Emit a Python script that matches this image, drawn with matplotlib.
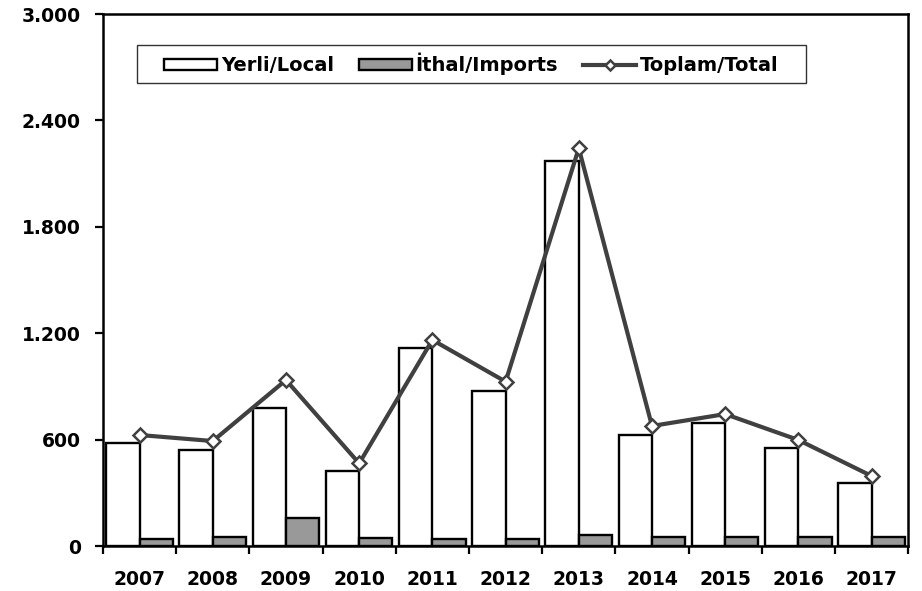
import matplotlib.pyplot as plt
import numpy as np
from matplotlib.ticker import FuncFormatter
from matplotlib.patches import Rectangle

years = ["2007", "2008", "2009", "2010", "2011", "2012", "2013", "2014", "2015", "2016", "2017"]
local = [582, 541, 776, 423, 1118, 874, 2171, 628, 695, 551, 354]
imports = [42, 49, 158, 45, 38, 42, 63, 53, 53, 53, 53]
total = [626, 592, 936, 466, 1162, 927, 2243, 677, 744, 598, 395]

plt.rcParams['font.family'] = ['DejaVu Sans']
plt.rcParams['font.weight'] = 'bold'

fig = plt.figure(figsize=(9.22, 5.91), dpi=100)
ax = fig.add_axes([0.1117, 0.0761, 0.8733, 0.9002])

x = np.arange(len(years))
w = 0.455
b1 = ax.bar(x - w / 2, local, width=w, color="white", edgecolor="black", linewidth=1.7,
            label="Yerli/Local", zorder=2)
b2 = ax.bar(x + w / 2, imports, width=w, color="#999999", edgecolor="black", linewidth=1.7,
            label="İthal/Imports", zorder=2)
ln, = ax.plot(x, total, color="#404040", linewidth=3, marker="D", markersize=7,
              markerfacecolor="white", markeredgecolor="#404040", markeredgewidth=1.8,
              label="Toplam/Total", zorder=3)

ax.set_xlim(-0.5, len(years) - 0.5)
ax.set_ylim(0, 3000)
ax.set_yticks([0, 600, 1200, 1800, 2400, 3000])
ax.yaxis.set_major_formatter(FuncFormatter(lambda v, p: f"{int(v):,}".replace(",", ".")))

ax.set_xticks(x)
ax.set_xticklabels(years)
ax.set_xticks(np.arange(-0.5, len(years)), minor=True)
ax.tick_params(axis="x", which="major", length=0, pad=17, labelsize=13.5)
ax.tick_params(axis="x", which="minor", length=6, width=1.6, direction="out")
ax.tick_params(axis="y", length=6, width=1.6, direction="out", labelsize=13.5, pad=10)

for s in ax.spines.values():
    s.set_linewidth(1.8)

# legend frame drawn by hand to match the wide box
ax.add_patch(Rectangle((0.042, 0.870), 0.831, 0.0714, transform=ax.transAxes,
                       facecolor="white", edgecolor="#333333", linewidth=1.0, zorder=4))
leg = ax.legend([b1, b2, ln], ["Yerli/Local", "İthal/Imports", "Toplam/Total"],
                loc="center", bbox_to_anchor=(0.042 + 0.831 / 2, 0.870 + 0.0714 / 2),
                ncol=3, frameon=False, fontsize=14, handlelength=2.7,
                handleheight=0.55, handletextpad=0.2, columnspacing=1.3,
                borderpad=0, borderaxespad=0, markerscale=0.75)
leg.set_zorder(5)

fig.savefig("out.png", dpi=100)
